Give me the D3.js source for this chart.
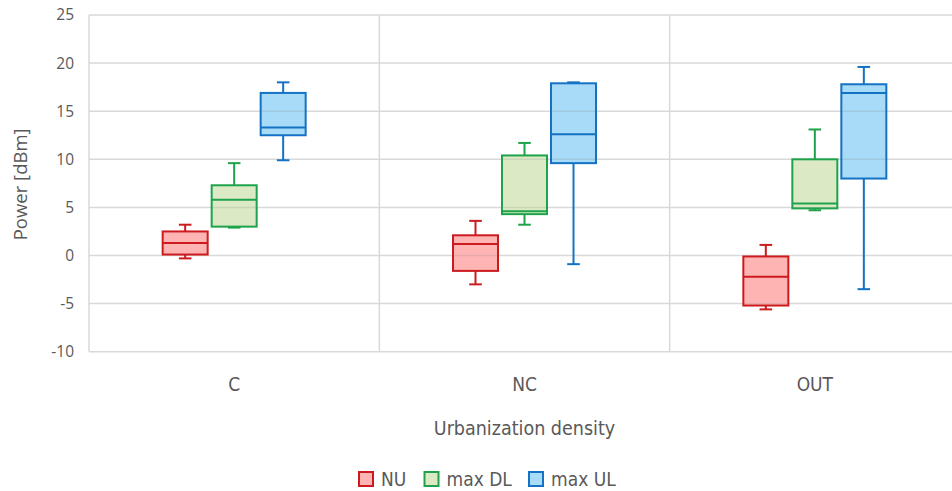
<!DOCTYPE html>
<html>
<head>
<meta charset="utf-8">
<script src="https://cdn.jsdelivr.net/npm/d3@7/dist/d3.min.js"></script>
<style>
  html, body { margin: 0; padding: 0; background: #fff; }
  svg { display: block; }
</style>
</head>
<body>
<svg id="chart" width="952" height="491"></svg>
<script>
// Urbanization categories and the three power series
const categories = ["C", "NC", "OUT"];
const seriesNames = ["NU", "max DL", "max UL"];

// Box statistics per series, one entry per category: [min, q1, median, q3, max] in dBm
const nuStats    = [[-0.3, 0.1, 1.3, 2.5, 3.2], [-3.0, -1.6, 1.2, 2.1, 3.6], [-5.6, -5.2, -2.2, -0.1, 1.1]];
const maxDlStats = [[2.9, 3.0, 5.8, 7.3, 9.6], [3.2, 4.3, 4.6, 10.4, 11.7], [4.7, 4.9, 5.4, 10.0, 13.1]];
const maxUlStats = [[9.9, 12.5, 13.3, 16.9, 18.0], [-0.9, 9.6, 12.6, 17.9, 18.0], [-3.5, 8.0, 16.9, 17.8, 19.6]];

const yTicks = [-10, -5, 0, 5, 10, 15, 20, 25];

(function () {
  const seriesStats = [nuStats, maxDlStats, maxUlStats];
  const strokeColors = ["#cc1a1f", "#1fa34a", "#1472c4"];
  const fillColors = ["rgba(255,140,140,0.65)", "rgba(200,222,165,0.65)", "rgba(120,200,245,0.65)"];

  const svg = d3.select("#chart");
  const plotLeft = 89, plotRight = 960, plotTop = 15, plotBottom = 351.7;

  const x = d3.scaleBand().domain(categories).range([plotLeft, plotRight]);
  const inner = d3.scaleBand().domain(seriesNames)
    .range([-71.5, 71.5]).paddingInner(4 / 49).paddingOuter(0);
  const y = d3.scaleLinear().domain([-10, 25]).range([plotBottom, plotTop]);

  const gridColor = "#d9d9d9";

  // Horizontal gridlines
  svg.append("g").selectAll("line").data(yTicks).join("line")
    .attr("x1", plotLeft).attr("x2", 952)
    .attr("y1", d => y(d)).attr("y2", d => y(d))
    .attr("stroke", gridColor).attr("stroke-width", 1.5);

  // Left axis line and category separators
  const seps = [plotLeft, ...categories.slice(1).map(c => x(c))];
  svg.append("g").selectAll("line").data(seps).join("line")
    .attr("x1", d => d).attr("x2", d => d)
    .attr("y1", plotTop).attr("y2", plotBottom)
    .attr("stroke", gridColor).attr("stroke-width", 1.5);

  // Y tick labels
  svg.append("g").selectAll("text").data(yTicks).join("text")
    .attr("x", 74).attr("y", d => y(d))
    .attr("dy", "0.35em")
    .attr("text-anchor", "end")
    .attr("font-family", "'Open Sans', sans-serif")
    .attr("font-size", 15.5)
    .attr("fill", "#595959")
    .text(d => d);

  // Y axis title
  svg.append("text")
    .attr("transform", `translate(27,${(plotTop + plotBottom) / 2 + 1}) rotate(-90)`)
    .attr("text-anchor", "middle")
    .attr("font-family", "'Open Sans', sans-serif")
    .attr("font-size", 18.5)
    .attr("fill", "#595959")
    .text("Power [dBm]");

  // Category labels
  const narrowFont = "'Liberation Sans Narrow', 'DejaVu Sans Condensed', sans-serif";
  svg.append("g").selectAll("text").data(categories).join("text")
    .attr("x", c => x(c) + x.bandwidth() / 2)
    .attr("y", 391)
    .attr("text-anchor", "middle")
    .attr("font-family", narrowFont)
    .attr("font-size", 19)
    .attr("fill", "#595959")
    .text(c => c);

  svg.append("text")
    .attr("x", x("NC") + x.bandwidth() / 2)
    .attr("y", 435)
    .attr("text-anchor", "middle")
    .attr("font-family", narrowFont)
    .attr("font-size", 19.5)
    .attr("fill", "#595959")
    .text("Urbanization density");

  // Box plots
  const capW = 12.6;
  seriesNames.forEach((name, si) => {
    const g = svg.append("g");
    const data = categories.map((c, ci) => ({ c, s: seriesStats[si][ci] }));
    const bw = inner.bandwidth();
    const cx = d => x(d.c) + x.bandwidth() / 2 + inner(name) + bw / 2;
    const stroke = strokeColors[si];

    // whiskers
    g.selectAll("line.w").data(data).join("line")
      .attr("x1", cx).attr("x2", cx)
      .attr("y1", d => y(d.s[0])).attr("y2", d => y(d.s[4]))
      .attr("stroke", stroke).attr("stroke-width", 2);
    // caps
    [0, 4].forEach(k => {
      g.selectAll("line.cap" + k).data(data).join("line")
        .attr("x1", d => cx(d) - capW / 2).attr("x2", d => cx(d) + capW / 2)
        .attr("y1", d => y(d.s[k])).attr("y2", d => y(d.s[k]))
        .attr("stroke", stroke).attr("stroke-width", 2);
    });
    // boxes: white underlay, then translucent fill
    g.selectAll("rect.bg").data(data).join("rect")
      .attr("x", d => cx(d) - bw / 2).attr("width", bw)
      .attr("y", d => y(d.s[3])).attr("height", d => y(d.s[1]) - y(d.s[3]))
      .attr("fill", "#fff");
    g.selectAll("rect.box").data(data).join("rect")
      .attr("x", d => cx(d) - bw / 2).attr("width", bw)
      .attr("y", d => y(d.s[3])).attr("height", d => y(d.s[1]) - y(d.s[3]))
      .attr("fill", fillColors[si]);
    // gridlines faintly visible through boxes
    const gy = yTicks.filter(t => t > -10 && t < 25);
    data.forEach(d => {
      gy.filter(t => t < d.s[3] && t > d.s[1]).forEach(t => {
        g.append("line")
          .attr("x1", cx(d) - bw / 2).attr("x2", cx(d) + bw / 2)
          .attr("y1", y(t)).attr("y2", y(t))
          .attr("stroke", "rgba(120,120,120,0.18)").attr("stroke-width", 1.5);
      });
    });
    g.selectAll("rect.ol").data(data).join("rect")
      .attr("x", d => cx(d) - bw / 2).attr("width", bw)
      .attr("y", d => y(d.s[3])).attr("height", d => y(d.s[1]) - y(d.s[3]))
      .attr("fill", "none").attr("stroke", stroke).attr("stroke-width", 2);
    // medians
    g.selectAll("line.med").data(data).join("line")
      .attr("x1", d => cx(d) - bw / 2).attr("x2", d => cx(d) + bw / 2)
      .attr("y1", d => y(d.s[2])).attr("y2", d => y(d.s[2]))
      .attr("stroke", stroke).attr("stroke-width", 2);
  });

  // Legend
  const legendX = [358, 423.5, 528];
  const lg = svg.append("g").selectAll("g").data(seriesNames).join("g")
    .attr("transform", (d, i) => `translate(${legendX[i]},471)`);
  lg.append("rect")
    .attr("x", 1).attr("y", 1).attr("width", 14).attr("height", 14)
    .attr("fill", (d, i) => fillColors[i])
    .attr("stroke", (d, i) => strokeColors[i]).attr("stroke-width", 2);
  lg.append("text")
    .attr("x", 23).attr("y", 8).attr("dy", "0.36em")
    .attr("font-family", narrowFont)
    .attr("font-size", 19)
    .attr("fill", "#595959")
    .text(d => d);
})();
</script>
</body>
</html>
